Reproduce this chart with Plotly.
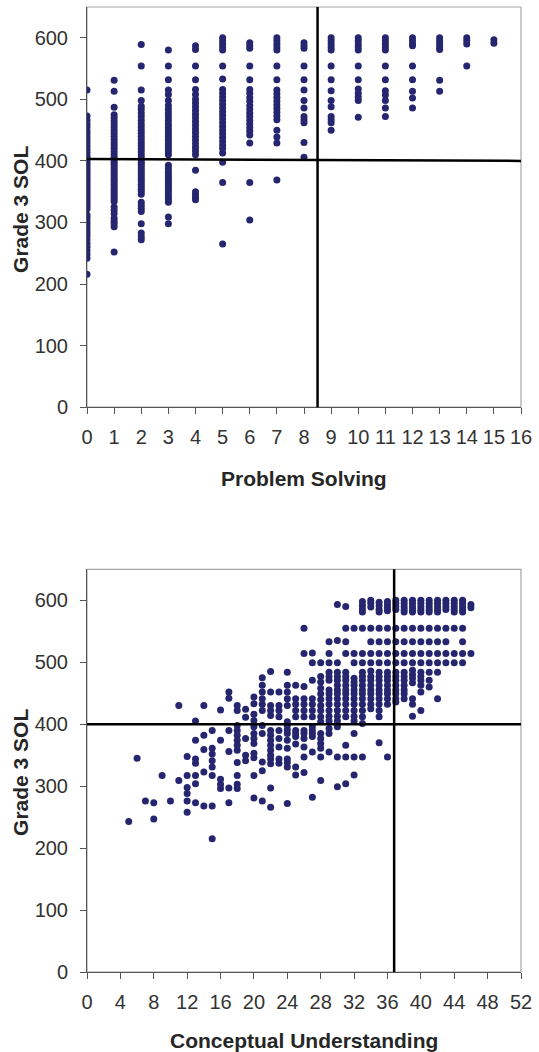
import plotly.graph_objects as go

# ---------------- Top chart: Problem Solving score vs Grade 3 SOL ----------------
ps_x = [0, 1, 2, 3, 4, 5, 6, 7, 8, 9, 10, 11, 12, 13, 14, 15]
ps_0 = [515, 473, 466, 460, 455, 449, 444, 439, 434, 429, 424, 419, 414, 409, 405, 402, 398, 394,
        390, 386, 382, 378, 374, 370, 366, 362, 358, 354, 350, 346, 342, 338, 334, 330, 326, 322,
        312, 308, 303, 298, 293, 288, 283, 278, 272, 266, 260, 254, 248, 242, 216]
ps_1 = [531, 513, 487, 475, 470, 465, 460, 455, 450, 445, 440, 435, 430, 425, 420, 415, 410, 405,
        402, 398, 394, 390, 386, 382, 378, 374, 370, 366, 362, 358, 354, 350, 346, 342, 338, 334,
        325, 320, 314, 307, 302, 298, 293, 252]
ps_2 = [589, 554, 515, 498, 489, 484, 478, 472, 466, 460, 455, 450, 445, 440, 435, 430, 425, 420,
        415, 410, 405, 402, 398, 394, 390, 386, 382, 378, 374, 370, 366, 362, 358, 354, 350, 346,
        333, 328, 323, 318, 298, 283, 277, 272]
ps_3 = [580, 554, 532, 515, 508, 498, 490, 484, 478, 472, 466, 460, 455, 450, 445, 440, 435, 430,
        425, 420, 415, 410, 393, 388, 383, 378, 374, 370, 366, 362, 358, 354, 350, 345, 341, 337,
        333, 309, 298]
ps_4 = [587, 581, 554, 532, 516, 508, 500, 494, 488, 482, 476, 470, 464, 458, 452, 446, 440, 434,
        428, 422, 416, 410, 385, 350, 345, 341, 337]
ps_5 = [600, 595, 590, 585, 580, 554, 533, 516, 510, 504, 498, 492, 486, 480, 474, 468, 462, 456,
        450, 444, 438, 432, 426, 420, 413, 398, 365, 265]
ps_6 = [592, 587, 583, 554, 532, 516, 510, 503, 497, 490, 484, 478, 472, 466, 460, 454, 448, 442,
        429, 365, 304]
ps_7 = [600, 595, 590, 585, 580, 554, 532, 515, 509, 503, 497, 491, 485, 479, 473, 467, 450, 439,
        429, 369]
ps_8 = [592, 587, 583, 554, 532, 515, 498, 486, 472, 467, 462, 430, 406]
ps_9 = [600, 595, 590, 585, 580, 554, 532, 514, 498, 488, 472, 467, 462, 450]
ps_10 = [600, 595, 590, 585, 580, 554, 532, 517, 510, 504, 498, 471]
ps_11 = [600, 595, 590, 585, 580, 554, 532, 514, 507, 498, 486, 472]
ps_12 = [600, 595, 590, 587, 554, 532, 513, 502, 486]
ps_13 = [600, 595, 590, 585, 581, 531, 513]
ps_14 = [600, 595, 590, 554]
ps_15 = [597, 591]
ps_columns = [ps_0, ps_1, ps_2, ps_3, ps_4, ps_5, ps_6, ps_7, ps_8, ps_9, ps_10, ps_11,
              ps_12, ps_13, ps_14, ps_15]
ps_ticks = [0, 1, 2, 3, 4, 5, 6, 7, 8, 9, 10, 11, 12, 13, 14, 15, 16]
ps_cut = 8.5
ps_sol_cut = [403, 400]   # horizontal cut line (left end, right end)

# ---------------- Bottom chart: Conceptual Understanding vs Grade 3 SOL ----------------
cu_x = [5, 6, 7, 8, 9, 10, 11, 12, 13, 14, 15, 16, 17, 18, 19, 20, 21, 22, 23, 24, 25, 26,
        27, 28, 29, 30, 31, 32, 33, 34, 35, 36, 37, 38, 39, 40, 41, 42, 43, 44, 45, 46]
cu_5 = [243]
cu_6 = [345]
cu_7 = [276]
cu_8 = [273, 247]
cu_9 = [317]
cu_10 = [276]
cu_11 = [430, 309]
cu_12 = [348, 317, 298, 288, 276, 258]
cu_13 = [405, 374, 344, 337, 317, 304, 273]
cu_14 = [430, 382, 359, 323, 268]
cu_15 = [390, 361, 352, 341, 331, 317, 268, 215]
cu_16 = [423, 374, 311, 303, 296]
cu_17 = [452, 442, 390, 356, 297, 273]
cu_18 = [430, 422, 398, 390, 382, 374, 366, 358, 338, 317, 303, 296]
cu_19 = [424, 411, 377, 350, 341]
cu_20 = [444, 433, 416, 406, 396, 385, 377, 369, 353, 346, 317, 281]
cu_21 = [475, 463, 452, 441, 432, 422, 398, 385, 339, 325, 276]
cu_22 = [485, 452, 430, 422, 414, 390, 382, 374, 366, 358, 350, 344, 336, 297, 266]
cu_23 = [452, 430, 422, 412, 390, 377, 363, 344, 337]
cu_24 = [484, 463, 452, 441, 430, 404, 398, 391, 385, 374, 361, 344, 338, 331, 272]
cu_25 = [463, 441, 432, 422, 412, 390, 385, 380, 368, 331, 318]
cu_26 = [555, 514, 461, 441, 432, 422, 412, 390, 385, 377, 363, 347, 322]
cu_27 = [515, 499, 471, 441, 432, 422, 412, 396, 390, 385, 380, 355, 282]
cu_28 = [499, 477, 468, 458, 449, 440, 430, 422, 412, 404, 385, 377, 369, 361, 347, 309]
cu_29 = [533, 514, 499, 484, 477, 471, 455, 449, 441, 432, 422, 413, 405, 393, 385, 355]
cu_30 = [593, 535, 499, 484, 477, 471, 463, 455, 449, 441, 432, 422, 413, 405, 396, 347, 299]
cu_31 = [590, 555, 533, 514, 484, 477, 471, 463, 455, 449, 441, 432, 422, 412, 366, 347, 304]
cu_32 = [555, 514, 499, 474, 468, 463, 455, 449, 441, 432, 422, 413, 405, 385, 347, 318]
cu_33 = [598, 592, 586, 581, 555, 514, 499, 484, 477, 471, 463, 455, 449, 441, 432, 422, 412, 401, 347]
cu_34 = [600, 595, 589, 555, 533, 514, 499, 486, 477, 471, 463, 455, 449, 441, 432, 425]
cu_35 = [597, 591, 585, 581, 555, 533, 514, 499, 484, 477, 471, 463, 455, 449, 441, 432, 422, 412, 370]
cu_36 = [598, 593, 588, 583, 555, 533, 514, 499, 484, 477, 471, 463, 455, 449, 441, 432, 347]
cu_37 = [600, 595, 590, 585, 555, 533, 514, 499, 484, 477, 471, 463, 455, 449, 441, 436]
cu_38 = [600, 595, 590, 585, 581, 555, 533, 514, 499, 484, 477, 471, 463, 455, 449, 441]
cu_39 = [600, 595, 590, 585, 581, 555, 533, 514, 499, 487, 480, 474, 467, 441, 432, 413]
cu_40 = [600, 595, 590, 585, 581, 555, 533, 514, 499, 484, 477, 471, 463, 452, 422]
cu_41 = [600, 595, 590, 585, 581, 555, 533, 514, 499, 484, 471, 460]
cu_42 = [600, 595, 590, 585, 581, 555, 533, 514, 499, 484, 441]
cu_43 = [600, 595, 590, 585, 555, 533, 514, 499]
cu_44 = [600, 595, 590, 585, 581, 555, 514, 499]
cu_45 = [600, 595, 590, 585, 581, 555, 533, 514, 499]
cu_46 = [593, 588, 514]
cu_columns = [cu_5, cu_6, cu_7, cu_8, cu_9, cu_10, cu_11, cu_12, cu_13, cu_14, cu_15, cu_16,
              cu_17, cu_18, cu_19, cu_20, cu_21, cu_22, cu_23, cu_24, cu_25, cu_26, cu_27,
              cu_28, cu_29, cu_30, cu_31, cu_32, cu_33, cu_34, cu_35, cu_36, cu_37, cu_38,
              cu_39, cu_40, cu_41, cu_42, cu_43, cu_44, cu_45, cu_46]
cu_ticks = [0, 4, 8, 12, 16, 20, 24, 28, 32, 36, 40, 44, 48, 52]
cu_cut = 36.8
cu_sol_cut = [400, 400]

sol_ticks = [0, 100, 200, 300, 400, 500, 600]

# ---------------- build figure ----------------
DOT = "#262670"
FONT = "Liberation Sans, Arial, sans-serif"

def flatten(xvals, cols):
    xs, ys = [], []
    for xv, col in zip(xvals, cols):
        for yv in col:
            xs.append(xv)
            ys.append(yv)
    return xs, ys

px_, py_ = flatten(ps_x, ps_columns)
cx_, cy_ = flatten(cu_x, cu_columns)

fig = go.Figure()
fig.add_trace(go.Scatter(x=px_, y=py_, mode="markers", xaxis="x", yaxis="y",
                         marker=dict(color=DOT, size=7, line=dict(width=0)),
                         showlegend=False, hoverinfo="x+y"))
fig.add_trace(go.Scatter(x=cx_, y=cy_, mode="markers", xaxis="x2", yaxis="y2",
                         marker=dict(color=DOT, size=7, line=dict(width=0)),
                         showlegend=False, hoverinfo="x+y"))

axis_common = dict(showgrid=False, zeroline=False, showline=True, linecolor="#555555",
                   linewidth=1, ticks="outside", ticklen=6, tickcolor="#555555",
                   tickfont=dict(family=FONT, size=20, color="#333333"))

H = 965.0          # plotting height in px (top 7 .. bottom 972)
top_dom = [(972 - 407.2) / H, 1.0]
bot_dom = [0.0, (972 - 569.3) / H]

fig.update_layout(
    width=539, height=1052,
    margin=dict(l=87, r=12, t=7, b=80),
    paper_bgcolor="white", plot_bgcolor="white",
    xaxis=dict(domain=[0, 1], anchor="y", range=[0, 16], tickvals=ps_ticks,
               ticklabelstandoff=6, **axis_common),
    yaxis=dict(domain=top_dom, anchor="x", range=[0, 650], tickvals=sol_ticks,
               ticklabelstandoff=8, **axis_common),
    xaxis2=dict(domain=[0, 1], anchor="y2", range=[0, 52], tickvals=cu_ticks,
                ticklabelstandoff=6, **axis_common),
    yaxis2=dict(domain=bot_dom, anchor="x2", range=[0, 650], tickvals=sol_ticks,
                ticklabelstandoff=8, **axis_common),
)

shapes = []
for xr, yr, xmax, xcut, ycut in [("x", "y", 16, ps_cut, ps_sol_cut),
                                 ("x2", "y2", 52, cu_cut, cu_sol_cut)]:
    shapes.append(dict(type="rect", xref=xr + " domain", yref=yr + " domain", x0=0, x1=1, y0=0, y1=1,
                       line=dict(color="#A6A6A6", width=1.2), layer="below"))
    shapes.append(dict(type="line", xref=xr, yref=yr, x0=0, x1=xmax, y0=ycut[0], y1=ycut[1],
                       line=dict(color="black", width=2.5), layer="above"))
    shapes.append(dict(type="line", xref=xr, yref=yr + " domain", x0=xcut, x1=xcut, y0=0, y1=1,
                       line=dict(color="black", width=2.5), layer="above"))
fig.update_layout(shapes=shapes)

title_font = dict(family=FONT, size=21, color="#262626")
def py2paper(py):
    return (972 - py) / H

ann = [
    dict(text="<b>Problem Solving</b>", xref="paper", yref="paper", x=0.5, y=py2paper(478),
         xanchor="center", yanchor="middle", showarrow=False, font=title_font),
    dict(text="<b>Conceptual Understanding</b>", xref="paper", yref="paper", x=0.5, y=py2paper(1040),
         xanchor="center", yanchor="middle", showarrow=False, font=title_font),
    dict(text="<b>Grade 3 SOL</b>", xref="paper", yref="paper", x=(19 - 87) / 440.0, y=py2paper(209),
         xanchor="center", yanchor="middle", textangle=-90, showarrow=False, font=title_font),
    dict(text="<b>Grade 3 SOL</b>", xref="paper", yref="paper", x=(19 - 87) / 440.0, y=py2paper(772),
         xanchor="center", yanchor="middle", textangle=-90, showarrow=False, font=title_font),
]
fig.update_layout(annotations=ann)

fig.write_html("out.html", config={"displayModeBar": False},
               post_script="document.body.style.margin='0px';")
